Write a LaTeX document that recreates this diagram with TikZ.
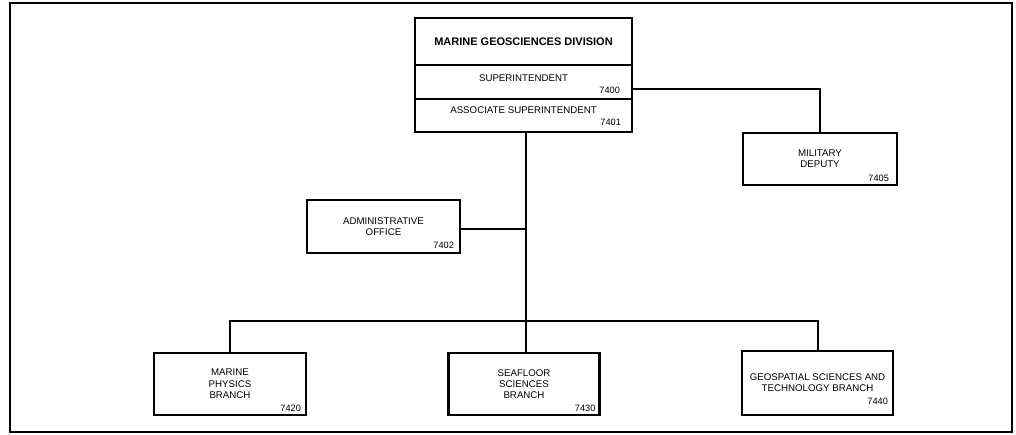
\documentclass[tikz,border=0pt]{standalone}
\usepackage{fontspec}
\setmainfont{Liberation Sans}
\usetikzlibrary{positioning}
\tikzset{
  unit/.style={draw, line width=2.2pt, inner sep=0pt, align=center, font=\fontsize{9.7}{11.3}\selectfont},
  num/.style={anchor=east, inner sep=0pt, font=\fontsize{9.2}{11}\selectfont},
  link/.style={line width=2pt},
}
\begin{document}
\begin{tikzpicture}[x=1pt,y=-1pt]
		\useasboundingbox (0,0) rectangle (1016,435);
		\draw[line width=2.4pt] (10,3) rectangle (1012,432);
		\node[unit, minimum width=217pt, minimum height=47pt, font=\fontsize{11}{13}\selectfont\bfseries] (division) at (523.5,41.5) {MARINE GEOSCIENCES DIVISION};
		\node[unit, minimum width=217pt, minimum height=34pt, text height=7pt, text depth=8.2pt] (super) at (523.5,82) {SUPERINTENDENT};
		\node[unit, minimum width=217pt, minimum height=33pt, text height=7pt, text depth=11.2pt] (assoc) at (523.5,115.5) {ASSOCIATE SUPERINTENDENT};
		\node[unit, minimum width=154pt, minimum height=52pt] (deputy) at (820,159) {MILITARY\\DEPUTY};
		\node[unit, minimum width=153pt, minimum height=53pt] (admin) at (383.5,226.5) {ADMINISTRATIVE\\OFFICE};
		\node[unit, minimum width=152pt, minimum height=62pt] (marine) at (230,384) {MARINE\\PHYSICS\\BRANCH};
		\node[unit, minimum width=151pt, minimum height=62pt] (seafloor) at (524,384) {SEAFLOOR\\SCIENCES\\BRANCH};
		\node[unit, minimum width=151pt, minimum height=64pt] (geo) at (817.5,383) {GEOSPATIAL SCIENCES AND\\TECHNOLOGY BRANCH};
		\node[num] (n7400) at ([shift={(-13pt,10pt)}]super.south east) {7400};
		\node[num] (n7401) at ([shift={(-12pt,11pt)}]assoc.south east) {7401};
		\node[num] (n7405) at ([shift={(-9pt,8pt)}]deputy.south east) {7405};
		\node[num] (n7402) at ([shift={(-7pt,9pt)}]admin.south east) {7402};
		\node[num] (n7420) at ([shift={(-6pt,8pt)}]marine.south east) {7420};
		\node[num] (n7430) at ([shift={(-5pt,8pt)}]seafloor.south east) {7430};
		\node[num] (n7440) at ([shift={(-6pt,15pt)}]geo.south east) {7440};
		\coordinate (hub) at (525.5,321);
		\draw[link] ([yshift=-7pt]super.east) -| (deputy.north);
		\draw[link] (assoc.south -| hub) -- (hub);
		\draw[link] ([yshift=-3pt]admin.east) -- ([yshift=-3pt]admin.east -| hub);
		\draw[link] (marine.north) |- (hub) -| (geo.north);
		\draw[link] (hub) -- (hub |- seafloor.north);
	\end{tikzpicture}
\end{document}
